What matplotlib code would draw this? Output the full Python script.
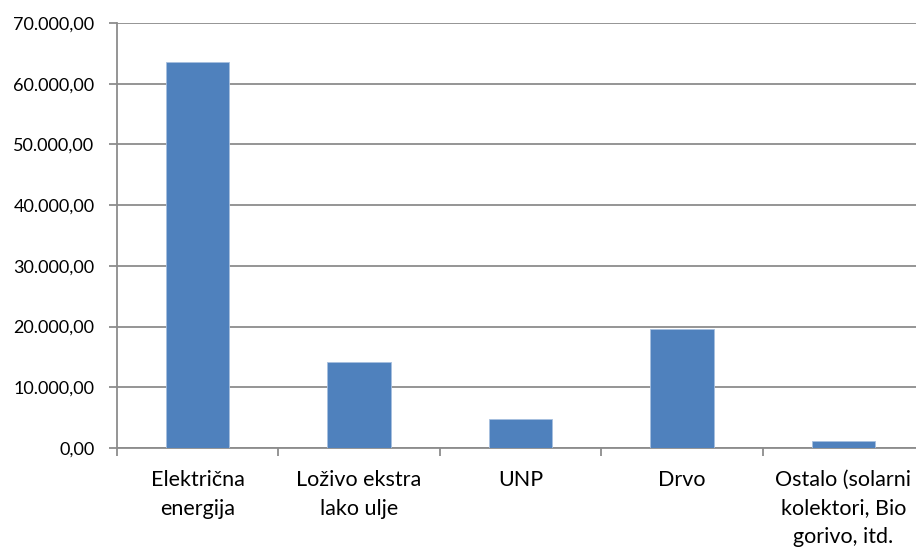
import matplotlib.pyplot as plt
from matplotlib.ticker import FuncFormatter, FixedLocator
import numpy as np

categories = ["Električna\nenergija", "Loživo ekstra\nlako ulje", "UNP", "Drvo",
              "Ostalo (solarni\nkolektori, Bio\ngorivo, itd."]
values = [63500, 14200, 4750, 19600, 1100]


def fmt(v, pos):
    s = f"{v:,.2f}"
    return s.replace(",", "X").replace(".", ",").replace("X", ".")


plt.rcParams['font.family'] = ['Lato', 'DejaVu Sans']

fig = plt.figure(figsize=(9.16, 5.48), dpi=100)
ax = fig.add_axes([116.7/916, 1 - 448/548, 807.5/916, 425/548])

x = np.arange(len(categories))
ax.bar(x, values, width=0.394, color="#4F81BD", edgecolor="#a7bfdf", linewidth=0.6, zorder=3)

ax.set_xlim(-0.5, len(categories) - 0.5)
ax.set_ylim(0, 70000)
ax.set_yticks(np.arange(0, 70001, 10000))
ax.yaxis.set_major_formatter(FuncFormatter(fmt))
ax.yaxis.grid(True, color="#8c8c8c", linewidth=1.3, zorder=0)

ax.xaxis.set_major_locator(FixedLocator(np.arange(-0.5, len(categories), 1.0)))
ax.xaxis.set_major_formatter(FuncFormatter(lambda v, p: ""))
ax.xaxis.set_minor_locator(FixedLocator(x))
ax.set_xticklabels(categories, minor=True, fontsize=15.5, linespacing=1.52)
ax.tick_params(axis='x', which='minor', length=0, pad=16)
ax.tick_params(axis='x', which='major', length=6, color="#8c8c8c", width=1.3)
ax.tick_params(axis='y', length=6, color="#8c8c8c", width=1.3, labelsize=13, pad=10)

for side in ["top", "right"]:
    ax.spines[side].set_visible(False)
for side in ["left", "bottom"]:
    ax.spines[side].set_color("#8c8c8c")
    ax.spines[side].set_linewidth(1.3)

fig.savefig("out.png", dpi=100)
